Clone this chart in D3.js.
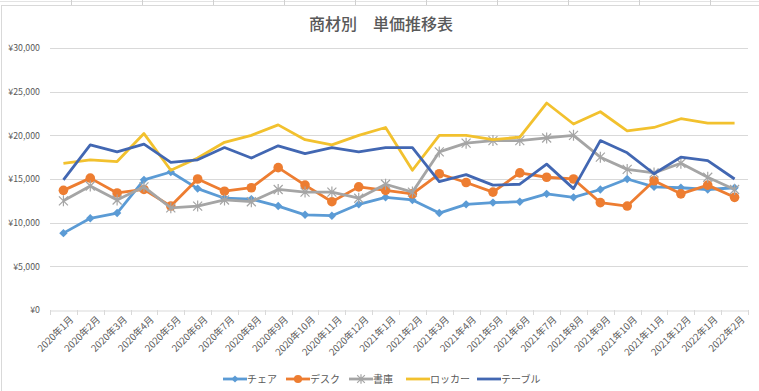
<!DOCTYPE html>
<html><head><meta charset="utf-8">
<script src="https://cdn.jsdelivr.net/npm/d3@7"></script>
<style>
html,body{margin:0;padding:0;background:#fff;}
svg{display:block;font-family:"Noto Sans CJK JP","Noto Sans",sans-serif;}
</style></head>
<body><svg id="c" width="759" height="391"></svg>
<script>
const categories = ["2020年1月","2020年2月","2020年3月","2020年4月","2020年5月","2020年6月","2020年7月","2020年8月","2020年9月","2020年10月","2020年11月","2020年12月","2021年1月","2021年2月","2021年3月","2021年4月","2021年5月","2021年6月","2021年7月","2021年8月","2021年9月","2021年10月","2021年11月","2021年12月","2022年1月","2022年2月"];
const chair  = [8800,10500,11100,14900,15800,13900,12800,12700,11900,10900,10800,12100,12900,12600,11100,12100,12300,12400,13300,12900,13800,15000,14100,14000,13800,14000];
const desk   = [13700,15100,13400,13800,11900,15000,13600,14000,16300,14300,12400,14100,13700,13300,15600,14600,13500,15700,15200,15000,12300,11900,14800,13300,14300,12900];
const shoko  = [12500,14200,12600,14100,11700,11900,12600,12400,13800,13500,13500,12800,14400,13500,18100,19100,19400,19400,19700,20000,17500,16100,15700,16800,15200,13800];
const locker = [16800,17200,17000,20200,16000,17400,19200,20000,21200,19500,18900,20000,20900,16000,20000,20000,19500,19800,23700,21300,22700,20500,20900,21900,21400,21400];
const table  = [14900,18900,18100,19000,16900,17200,18600,17400,18800,17900,18600,18100,18600,18600,14700,15500,14300,14400,16700,13900,19400,18000,15600,17500,17100,15000];
const yTicks = [0,5000,10000,15000,20000,25000,30000];
const seriesNames = ["チェア","デスク","書庫","ロッカー","テーブル"];
const seriesColors = ["#5B9BD5","#ED7D31","#A5A5A5","#F2C12E","#4267B2"];
const seriesMarkers = ["diamond","circle","asterisk","none","none"];
const title = "商材別　単価推移表";

const svg = d3.select("#c");
svg.append("rect").attr("x",1.5).attr("y",5.5).attr("width",770).attr("height",400)
  .attr("fill","#fff").attr("stroke","#d9d9d9");
const sheetCols = [71,142,213,284,355,426,497,568,639,710];
svg.append("line").attr("x1",0).attr("x2",759).attr("y1",1.5).attr("y2",1.5).attr("stroke","#e3e3e3");
sheetCols.forEach(x=>svg.append("line").attr("x1",x+0.5).attr("x2",x+0.5).attr("y1",0).attr("y2",5).attr("stroke","#d0d0d0"));

const m = {l:50, r:11, t:48, b:81};
const W = 759, H = 391;
const x = d3.scaleBand().domain(categories).range([m.l, W-m.r]);
const y = d3.scaleLinear().domain([0,30000]).range([H-m.b, m.t]);

svg.append("text").attr("x",381).attr("y",30).attr("text-anchor","middle")
  .attr("font-size",16).attr("font-weight",500).attr("fill","#595959").text(title);

svg.append("g").selectAll("line").data(yTicks.filter(d=>d>0)).join("line")
  .attr("x1",m.l).attr("x2",W-m.r).attr("y1",d=>Math.round(y(d))+0.5).attr("y2",d=>Math.round(y(d))+0.5)
  .attr("stroke","#d9d9d9").attr("stroke-width",1);

const fmt = d => "¥" + d3.format(",")(d);
const ya = svg.append("g").attr("transform",`translate(${m.l},0)`)
  .call(d3.axisLeft(y).tickValues(yTicks).tickFormat(fmt).tickSize(0).tickPadding(10));
ya.select(".domain").remove();
ya.selectAll("text").attr("font-size",8.8).attr("fill","#595959").attr("font-family","'Noto Sans CJK JP',sans-serif");

const xa = svg.append("g").attr("transform",`translate(0,${Math.round(y(0))+0.5})`)
  .call(d3.axisBottom(x).tickSize(0).tickPadding(6));
xa.select(".domain").attr("stroke","#d9d9d9");
xa.selectAll("text").attr("font-size",9.6).attr("fill","#595959").attr("font-family","'Noto Sans CJK JP',sans-serif")
  .attr("text-anchor","end").attr("dy","0.35em")
  .attr("transform","translate(4,3) rotate(-45)");
const bounds = categories.map(c=>x(c)).concat([x(categories[categories.length-1])+x.bandwidth()]);
svg.append("g").selectAll("line").data(bounds).join("line")
  .attr("x1",d=>Math.round(d)+0.5).attr("x2",d=>Math.round(d)+0.5)
  .attr("y1",Math.round(y(0))).attr("y2",Math.round(y(0))+5).attr("stroke","#d9d9d9");

const data = [chair, desk, shoko, locker, table];
const cx = i => x(categories[i]) + x.bandwidth()/2;
const line = d3.line().x((d,i)=>cx(i)).y(d=>y(d));

function drawMarker(g, type, color, px, py, scale){
  scale = scale || 1;
  if(type==="diamond"){
    const s=4.2*scale;
    g.append("path").attr("d",`M${px},${py-s}L${px+s},${py}L${px},${py+s}L${px-s},${py}Z`).attr("fill",color);
  } else if(type==="circle"){
    g.append("circle").attr("cx",px).attr("cy",py).attr("r",4.8*scale).attr("fill",color);
  } else if(type==="asterisk"){
    const s=4.5*scale;
    g.append("path").attr("d",`M${px-s},${py-s}L${px+s},${py+s}M${px-s},${py+s}L${px+s},${py-s}M${px},${py-s-1}L${px},${py+s+1}`)
      .attr("stroke",color).attr("stroke-width",1.2).attr("fill","none");
  }
}

data.forEach((vals, si)=>{
  const g = svg.append("g");
  g.append("path").datum(vals).attr("d",line).attr("fill","none")
    .attr("stroke",seriesColors[si]).attr("stroke-width",2.8).attr("stroke-linejoin","round");
  vals.forEach((v,i)=>drawMarker(g, seriesMarkers[si], seriesColors[si], cx(i), y(v)));
});

const legX = [223, 286, 349, 406, 477];
const legY = 379;
seriesNames.forEach((n,i)=>{
  const g = svg.append("g");
  g.append("line").attr("x1",legX[i]).attr("x2",legX[i]+24).attr("y1",legY).attr("y2",legY)
    .attr("stroke",seriesColors[i]).attr("stroke-width",2.8);
  drawMarker(g, seriesMarkers[i], seriesColors[i], legX[i]+12, legY, 0.85);
  g.append("text").attr("x",legX[i]+24).attr("y",legY).attr("dy","0.35em")
    .attr("font-size",10).attr("fill","#595959").text(n);
});
</script></body></html>
